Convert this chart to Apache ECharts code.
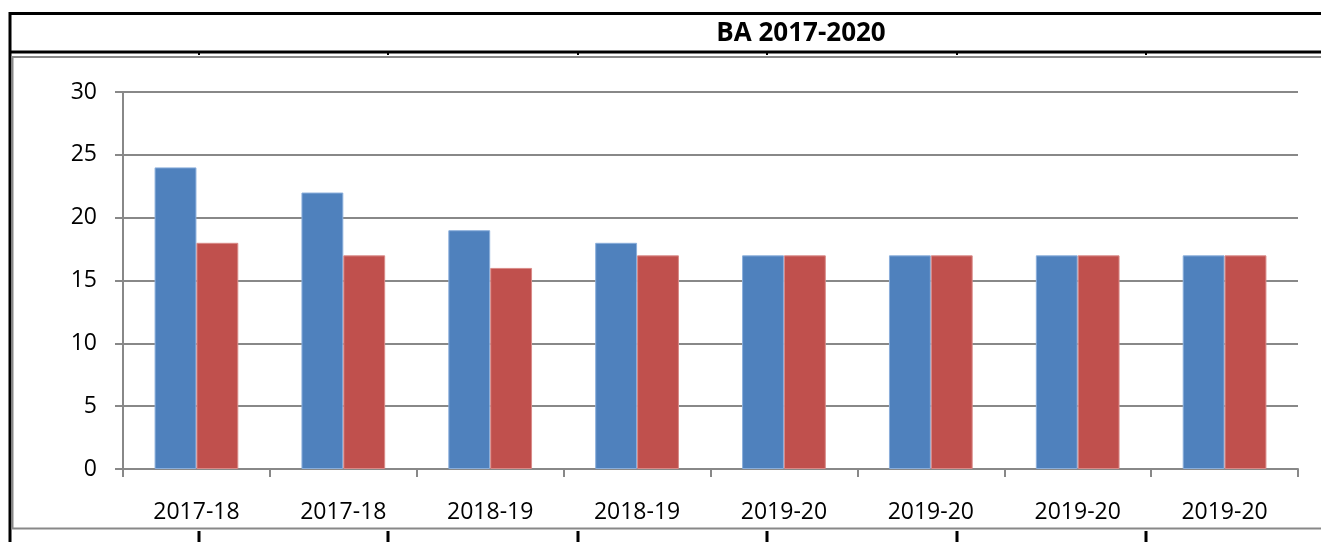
<!DOCTYPE html>
<html>
<head>
<meta charset="utf-8">
<script src="https://cdn.jsdelivr.net/npm/echarts@6/dist/echarts.min.js"></script>
<style>
html,body{margin:0;padding:0;background:#fff;}
#c{width:1321px;height:542px;}
</style>
</head>
<body>
<div id="c"></div>
<script>
var title = 'BA 2017-2020';
var categories = ['2017-18','2017-18','2018-19','2018-19','2019-20','2019-20','2019-20','2019-20'];
var seriesA = [24, 22, 19, 18, 17, 17, 17, 17];
var seriesB = [18, 17, 16, 17, 17, 17, 17, 17];
var yTicks = {min: 0, max: 30, interval: 5};

var chart = echarts.init(document.getElementById('c'), null, {renderer: 'canvas'});
var FONT = '"Open Sans", "Liberation Sans", sans-serif';
var tickXs = [199, 388, 578, 767, 957, 1146];
var graphics = [
  {type:'line', shape:{x1:9, y1:13.5, x2:1321, y2:13.5}, style:{stroke:'#000', lineWidth:3}},
  {type:'line', shape:{x1:10, y1:12, x2:10, y2:542}, style:{stroke:'#000', lineWidth:3}},
  {type:'line', shape:{x1:9, y1:52, x2:1321, y2:52}, style:{stroke:'#000', lineWidth:3}},
  {type:'line', shape:{x1:11, y1:57, x2:1321, y2:57}, style:{stroke:'#888', lineWidth:2}},
  {type:'line', shape:{x1:12.5, y1:57, x2:12.5, y2:529}, style:{stroke:'#888', lineWidth:2}},
  {type:'line', shape:{x1:11, y1:528.5, x2:1321, y2:528.5}, style:{stroke:'#888', lineWidth:2}},
  {type:'text', style:{text:title, x:801, y:34, textAlign:'center', textVerticalAlign:'middle', font:'bold 26px ' + FONT, fill:'#000'}}
];
tickXs.forEach(function(x){
  graphics.push({type:'line', shape:{x1:x, y1:52, x2:x, y2:55}, style:{stroke:'#000', lineWidth:2}});
  graphics.push({type:'line', shape:{x1:x, y1:531, x2:x, y2:542}, style:{stroke:'#000', lineWidth:3}});
});

chart.setOption({
  animation: false,
  backgroundColor: '#fff',
  graphic: graphics,
  grid: {left: 123, right: 23, top: 92, bottom: 73, containLabel: false},
  xAxis: {
    type: 'category',
    data: categories,
    axisLine: {lineStyle: {color: '#888', width: 2}},
    axisTick: {show: true, length: 8, lineStyle: {color: '#888', width: 2}},
    axisLabel: {color: '#000', fontFamily: FONT, fontSize: 23, margin: 32}
  },
  yAxis: {
    type: 'value',
    min: yTicks.min, max: yTicks.max, interval: yTicks.interval,
    axisLine: {show: true, lineStyle: {color: '#888', width: 2}},
    axisTick: {show: true, length: 8, lineStyle: {color: '#888', width: 2}},
    splitLine: {show: true, lineStyle: {color: '#888', width: 2}},
    axisLabel: {color: '#000', fontFamily: FONT, fontSize: 23, margin: 26}
  },
  series: [
    {type: 'bar', data: seriesA, barGap: '0%', barCategoryGap: '43%',
     itemStyle: {color: '#4F81BD', borderColor: '#8AAEDB', borderWidth: 1}},
    {type: 'bar', data: seriesB, barGap: '0%', barCategoryGap: '43%',
     itemStyle: {color: '#C0504D', borderColor: '#D98A88', borderWidth: 1}}
  ]
});
</script>
</body>
</html>
